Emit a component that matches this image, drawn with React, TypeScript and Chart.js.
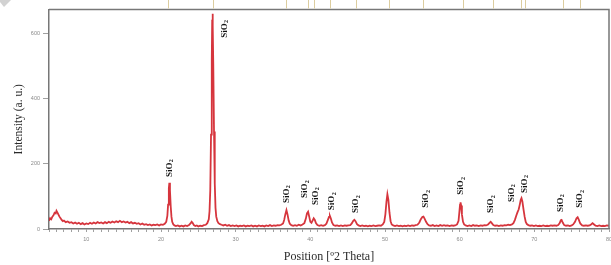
import { useEffect, useRef } from "react";
import { Chart, registerables } from "chart.js";
Chart.register(...registerables);

const twoTheta = [
  5.0, 5.15, 5.3, 5.45, 5.6, 5.75, 5.9, 6.0, 6.1, 6.25, 6.4, 6.55, 6.7, 6.85, 7.0, 7.25, 7.5, 7.75, 8.0, 8.25,
  8.5, 8.75, 9.0, 9.25, 9.5, 9.75, 10.0, 10.25, 10.5, 10.75, 11.0, 11.25, 11.5, 11.75, 12.0, 12.25, 12.5, 12.75,
  13.0, 13.25, 13.5, 13.75, 14.0, 14.25, 14.5, 14.75, 15.0, 15.25, 15.5, 15.75, 16.0, 16.25, 16.5, 16.75, 17.0,
  17.25, 17.5, 17.75, 18.0, 18.25, 18.5, 18.75, 19.0, 19.25, 19.5, 19.75, 20.0, 20.25, 20.5, 20.7, 20.85, 20.95,
  21.05, 21.12, 21.2, 21.3, 21.4, 21.5, 21.65, 21.8, 22.0, 22.25, 22.5, 22.75, 23.0, 23.25, 23.5, 23.75, 23.95,
  24.1, 24.25, 24.4, 24.6, 24.8, 25.0, 25.25, 25.5, 25.75, 26.0, 26.2, 26.4, 26.5, 26.6, 26.7, 26.8, 26.85, 26.9,
  26.95, 27.0, 27.1, 27.2, 27.3, 27.4, 27.55, 27.7, 27.9, 28.1, 28.35, 28.6, 28.85, 29.1, 29.35, 29.6, 29.85,
  30.1, 30.35, 30.6, 30.85, 31.1, 31.35, 31.6, 31.85, 32.1, 32.35, 32.6, 32.85, 33.1, 33.35, 33.6, 33.85, 34.1,
  34.35, 34.6, 34.85, 35.1, 35.35, 35.6, 35.85, 36.1, 36.35, 36.5, 36.65, 36.8, 36.95, 37.1, 37.25, 37.45, 37.7,
  37.95, 38.2, 38.45, 38.7, 38.95, 39.2, 39.4, 39.55, 39.7, 39.85, 40.0, 40.15, 40.3, 40.45, 40.6, 40.75, 40.95,
  41.2, 41.45, 41.7, 41.95, 42.15, 42.35, 42.5, 42.62, 42.75, 42.9, 43.1, 43.35, 43.6, 43.85, 44.1, 44.35, 44.6,
  44.85, 45.1, 45.35, 45.55, 45.75, 45.9, 46.05, 46.25, 46.45, 46.7, 46.95, 47.2, 47.45, 47.7, 47.95, 48.2, 48.45,
  48.7, 48.95, 49.2, 49.45, 49.7, 49.9, 50.05, 50.2, 50.32, 50.45, 50.6, 50.75, 50.9, 51.1, 51.35, 51.6, 51.85,
  52.1, 52.35, 52.6, 52.85, 53.1, 53.35, 53.6, 53.85, 54.1, 54.35, 54.6, 54.8, 55.0, 55.15, 55.3, 55.5, 55.7,
  55.9, 56.15, 56.4, 56.65, 56.9, 57.15, 57.4, 57.65, 57.9, 58.15, 58.4, 58.65, 58.9, 59.15, 59.4, 59.65, 59.85,
  59.95, 60.05, 60.12, 60.2, 60.3, 60.45, 60.6, 60.8, 61.05, 61.3, 61.55, 61.8, 62.05, 62.3, 62.55, 62.8, 63.05,
  63.3, 63.55, 63.8, 64.0, 64.15, 64.3, 64.5, 64.75, 65.0, 65.25, 65.5, 65.75, 66.0, 66.25, 66.5, 66.75, 67.0,
  67.2, 67.4, 67.6, 67.75, 67.9, 68.05, 68.18, 68.28, 68.4, 68.55, 68.7, 68.85, 69.0, 69.2, 69.45, 69.7, 69.95,
  70.2, 70.45, 70.7, 70.95, 71.2, 71.45, 71.7, 71.95, 72.2, 72.45, 72.7, 72.95, 73.2, 73.4, 73.55, 73.65, 73.8,
  74.0, 74.25, 74.5, 74.75, 75.0, 75.2, 75.45, 75.65, 75.8, 75.95, 76.15, 76.4, 76.65, 76.9, 77.15, 77.4, 77.6,
  77.8, 78.0, 78.2, 78.45, 78.7, 78.95, 79.2, 79.45, 79.7, 80.0,
];

const intensity = [
  25, 33, 30, 38, 42, 50, 48, 56, 52, 45, 38, 33, 28, 24, 26, 21, 23, 19, 21, 17,
  20, 16, 19, 15, 18, 14, 17, 15, 19, 16, 20, 17, 21, 18, 20, 17, 21, 18,
  22, 19, 23, 20, 24, 21, 25, 21, 23, 20, 22, 18, 21, 17, 19, 16, 18,
  14, 17, 13, 15, 12, 14, 11, 13, 12, 14, 11, 14, 13, 16, 22, 40, 75,
  125, 142, 118, 70, 38, 22, 14, 11, 9, 11, 8, 10, 8, 11, 9, 12, 17,
  22, 18, 12, 9, 11, 8, 10, 9, 12, 13, 18, 30, 55, 120, 290, 520, 630, 662,
  625, 510, 300, 140, 65, 38, 24, 18, 15, 13, 11, 13, 10, 12, 9, 11, 9,
  11, 8, 10, 9, 11, 8, 10, 9, 11, 8, 10, 8, 11, 9, 10, 8, 11,
  9, 12, 9, 11, 10, 12, 11, 13, 17, 28, 45, 58, 44, 26, 16, 12, 10,
  12, 10, 13, 11, 14, 18, 32, 48, 53, 38, 22, 19, 26, 33, 28, 18, 12,
  10, 12, 10, 12, 16, 28, 37, 40, 32, 20, 12, 10, 11, 9, 11, 9, 11,
  10, 11, 12, 17, 25, 28, 24, 15, 11, 9, 11, 9, 10, 8, 10, 9, 11,
  9, 10, 11, 10, 14, 22, 45, 85, 107, 90, 50, 24, 14, 11, 9, 11, 9,
  10, 8, 10, 9, 11, 9, 11, 10, 12, 13, 20, 30, 37, 38, 32, 22, 15,
  11, 10, 12, 9, 11, 9, 12, 10, 12, 10, 11, 9, 11, 10, 11, 14, 25,
  50, 75, 82, 72, 45, 22, 14, 11, 9, 11, 9, 12, 10, 11, 9, 11, 10,
  12, 11, 14, 19, 22, 18, 12, 10, 11, 9, 11, 10, 12, 11, 13, 12, 14,
  18, 28, 42, 52, 60, 75, 90, 95, 85, 60, 38, 22, 15, 12, 10, 11, 9,
  11, 9, 10, 9, 11, 9, 10, 9, 11, 10, 11, 10, 12, 18, 27, 28, 20,
  12, 10, 11, 9, 11, 14, 22, 33, 36, 29, 17, 11, 10, 11, 10, 11, 14,
  18, 14, 10, 9, 11, 9, 10, 9, 11, 10,
];

// SiO2 peak annotations: x position (°2θ) and base (start of text) in intensity units
const peakLabelX = [21.1, 28.5, 36.8, 39.3, 40.7, 42.9, 46.1, 55.5, 60.2, 64.2, 66.9, 68.7, 73.5, 76.1];
const peakLabelY = [160, 588, 80, 95, 74, 58, 49, 65, 105, 49, 83, 111, 52, 65];
const peakLabelText = "SiO";
const peakLabelSub = "2";

// reference pattern stick positions shown above the plot
const refLines = [21.0, 26.9, 36.8, 39.7, 40.5, 42.7, 46.1, 50.5, 55.1, 60.4, 64.4, 68.2, 68.7, 73.9, 76.1];

const xMin = 5;
const xMax = 80;
const yMax = 675;
const yStep = 200;
const xTitle = "Position [º2 Theta]";
const yTitle = "Intensity (a. u.)";

export default function App() {
  const ref = useRef<HTMLCanvasElement | null>(null);
  useEffect(() => {
    document.body.style.margin = "0";
    const canvas = ref.current;
    if (!canvas) return;

    const decor = {
      id: "decor",
      beforeDraw(chart: any) {
        const ctx = chart.ctx;
        ctx.save();
        ctx.fillStyle = "#d2d2d2";
        ctx.beginPath();
        ctx.moveTo(0, 0);
        ctx.lineTo(11, 0);
        ctx.lineTo(4, 7);
        ctx.lineTo(0, 2);
        ctx.closePath();
        ctx.fill();
        ctx.restore();
      },
      afterDraw(chart: any) {
        const { ctx, chartArea: a, scales } = chart;
        const x = scales.x;
        const y = scales.y;
        ctx.save();
        // frame top / right
        ctx.strokeStyle = "#777";
        ctx.lineWidth = 1.5;
        ctx.beginPath();
        ctx.moveTo(a.left, a.top);
        ctx.lineTo(a.right, a.top);
        ctx.lineTo(a.right, a.bottom);
        ctx.stroke();
        // reference sticks
        ctx.strokeStyle = "#dccd9f";
        ctx.lineWidth = 1;
        refLines.forEach((v) => {
          const px = Math.round(x.getPixelForValue(v)) + 0.5;
          ctx.beginPath();
          ctx.moveTo(px, 0);
          ctx.lineTo(px, a.top - 1);
          ctx.stroke();
        });
        // peak labels
        ctx.fillStyle = "#111";
        peakLabelX.forEach((v, i) => {
          const px = x.getPixelForValue(v);
          const py = y.getPixelForValue(peakLabelY[i]);
          ctx.save();
          ctx.translate(px, py);
          ctx.rotate(-Math.PI / 2);
          ctx.textBaseline = "middle";
          ctx.textAlign = "left";
          ctx.font = 'bold 9px "Liberation Serif"';
          ctx.fillText(peakLabelText, 0, 0);
          const w = ctx.measureText(peakLabelText).width;
          ctx.font = 'bold 6px "Liberation Serif"';
          ctx.fillText(peakLabelSub, w + 0.3, 2.2);
          ctx.restore();
        });
        // axis titles
        ctx.fillStyle = "#2a2a2a";
        ctx.font = '12px "Liberation Serif"';
        ctx.textAlign = "center";
        ctx.textBaseline = "middle";
        ctx.fillText(xTitle, (a.left + a.right) / 2, a.bottom + 28);
        ctx.save();
        ctx.translate(a.left - 30.5, (a.top + a.bottom) / 2);
        ctx.rotate(-Math.PI / 2);
        ctx.font = '11.5px "Liberation Serif"';
        ctx.fillText(yTitle, 0, 0);
        ctx.restore();
        ctx.restore();
      },
    };

    const chart = new Chart(canvas, {
      type: "line",
      data: {
        datasets: [
          {
            data: twoTheta.map((t, i) => ({ x: t, y: intensity[i] })),
            borderColor: "rgba(210,36,44,0.92)",
            borderWidth: 1.8,
            pointRadius: 0,
            tension: 0,
            fill: false,
          },
        ],
      },
      options: {
        responsive: false,
        animation: false,
        events: [],
        layout: { padding: { top: 9.5, right: 2, left: 0, bottom: 0 } },
        plugins: { legend: { display: false }, tooltip: { enabled: false } },
        scales: {
          x: {
            type: "linear",
            min: xMin,
            max: xMax,
            afterFit: (s: any) => {
              s.height = 36;
              s.paddingLeft = 0;
              s.paddingRight = 0;
            },
            ticks: {
              stepSize: 1,
              autoSkip: false,
              maxRotation: 0,
              includeBounds: false,
              padding: 4,
              color: "#8a8a8a",
              font: { size: 5.5, family: "Liberation Sans" },
              callback: (v: any) => (Number(v) % 10 === 0 ? String(v) : ""),
            },
            grid: { drawOnChartArea: false, drawTicks: true, tickLength: 3, color: "#888", lineWidth: 0.8 },
            border: { display: true, color: "#777", width: 1.5 },
          },
          y: {
            type: "linear",
            min: 0,
            max: yMax,
            afterFit: (s: any) => {
              s.width = 49;
              s.paddingTop = 0;
              s.paddingBottom = 0;
            },
            ticks: {
              stepSize: yStep,
              includeBounds: false,
              padding: 3,
              color: "#8a8a8a",
              font: { size: 5.5, family: "Liberation Sans" },
            },
            grid: { drawOnChartArea: false, drawTicks: true, tickLength: 6, color: "#888", lineWidth: 0.8 },
            border: { display: true, color: "#777", width: 1.5 },
          },
        },
      },
      plugins: [decor],
    });
    return () => chart.destroy();
  }, []);
  return <canvas ref={ref} width={611} height={265} style={{ display: "block" }} />;
}
